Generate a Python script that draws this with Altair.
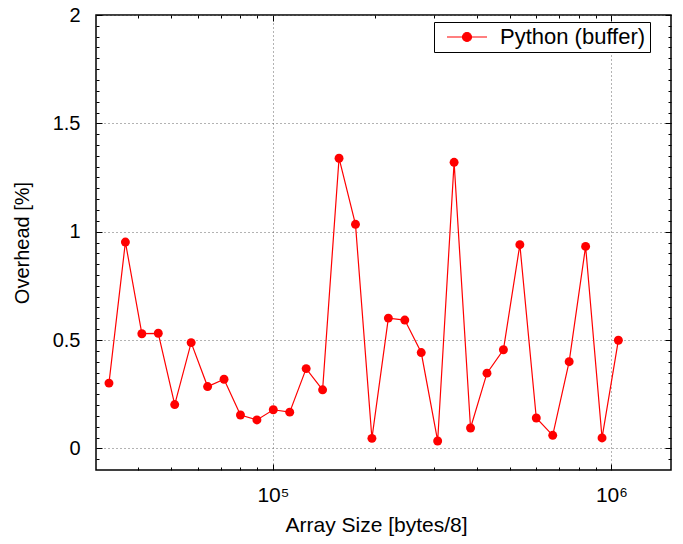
import altair as alt
import pandas as pd

# Array sizes (bytes/8) and measured overhead (%)
sizes = [32768, 36644, 40980, 45829, 51251, 57316, 64098, 71681, 80163, 89649,
         100226, 112085, 125347, 140178, 156764, 175314, 196057, 219255, 245199,
         274211, 306656, 342944, 383520, 428900, 479652, 536404, 599872, 670848,
         750235, 839007, 938285, 1048576]
overhead = [0.301, 0.952, 0.529, 0.531, 0.202, 0.488, 0.285, 0.319, 0.154, 0.131,
            0.178, 0.167, 0.368, 0.270, 1.339, 1.034, 0.046, 0.601, 0.592, 0.442,
            0.034, 1.320, 0.094, 0.347, 0.455, 0.940, 0.140, 0.060, 0.400, 0.932,
            0.048, 0.499]
series_name = "Python (buffer)"

x_major = [1e5, 1e6]
x_minor = [4e4, 5e4, 6e4, 7e4, 8e4, 9e4, 2e5, 3e5, 4e5, 5e5, 6e5, 7e5, 8e5, 9e5]
y_major = [0, 0.5, 1, 1.5, 2]
y_minor = [round(-0.05 + 0.05 * i, 2) for i in range(42)]

df = pd.DataFrame({"size": sizes, "overhead": overhead, "series": series_name})

FONT = "Liberation Sans"
RED = "#ff0000"
GRID = "#666666"
xscale = alt.Scale(type="log", domain=[3e4, 1.5e6])
yscale = alt.Scale(domain=[-0.1, 2], zero=False, nice=False)

# legend glyph: short line with a filled circle in its middle
legend_path = ("M-0.6,0L1.4,0M0.175,0A0.225,0.225,0,1,1,0.625,0"
               "A0.225,0.225,0,1,1,0.175,0Z")

color = alt.Color(
    "series:N",
    scale=alt.Scale(domain=[series_name], range=[RED]),
    legend=alt.Legend(
        title=None, orient="none", legendX=338, legendY=7,
        padding=4, strokeColor="black", fillColor="white", cornerRadius=0,
        labelFont=FONT, labelFontSize=22, labelColor="black",
        symbolType=legend_path, symbolSize=1600, symbolStrokeWidth=1.2,
        symbolStrokeColor=RED, symbolFillColor=RED,
        clipHeight=22, labelOffset=20,
    ),
)

x_main = alt.X("size:Q", scale=xscale, title="Array Size [bytes/8]",
               axis=alt.Axis(orient="bottom", values=x_major,
                             labelExpr="datum.value == 100000 ? '10⁵' : '10⁶'",
                             ticks=False, domain=False, grid=True,
                             gridColor=GRID, gridDash=[1, 3], gridWidth=1,
                             labelFont=FONT, labelFontSize=21, labelColor="black",
                             labelPadding=14, titleFont=FONT, titleFontSize=21,
                             titleFontWeight="normal", titleColor="black",
                             titlePadding=9, titleX=280))
y_main = alt.Y("overhead:Q", scale=yscale, title="Overhead [%]",
               axis=alt.Axis(orient="left", values=y_major, format="~g",
                             ticks=False, domain=False, grid=True,
                             gridColor=GRID, gridDash=[1, 3], gridWidth=1,
                             labelFont=FONT, labelFontSize=20, labelColor="black",
                             labelPadding=16, titleFont=FONT, titleFontSize=20,
                             titleFontWeight="normal", titleColor="black",
                             titlePadding=20))

base = alt.Chart(df)
line = base.mark_line(strokeWidth=1.2).encode(x=x_main, y=y_main, color=color)
pts = base.mark_point(filled=True, size=80, opacity=1).encode(
    x=alt.X("size:Q", scale=xscale, axis=None),
    y=alt.Y("overhead:Q", scale=yscale, axis=None),
    color=color)


def tick_layer(xo, yo, xvals, yvals, length):
    xa = alt.Axis(orient=xo, values=xvals, labels=False, domain=False, grid=False,
                  ticks=True, tickSize=length, offset=-length, tickColor="black",
                  tickWidth=1, title=None, zindex=1)
    ya = alt.Axis(orient=yo, values=yvals, labels=False, domain=False, grid=False,
                  ticks=True, tickSize=length, offset=-length, tickColor="black",
                  tickWidth=1, title=None, zindex=1)
    return base.mark_point(opacity=0).encode(
        x=alt.X("size:Q", scale=xscale, axis=xa),
        y=alt.Y("overhead:Q", scale=yscale, axis=ya))


layers = [
    line, pts,
    tick_layer("bottom", "left", x_minor, y_minor, 3),
    tick_layer("bottom", "left", x_major, y_major, 6),
    tick_layer("top", "right", x_minor, y_minor, 3),
    tick_layer("top", "right", x_major, y_major, 6),
]

chart = alt.layer(*layers).resolve_axis(x="independent", y="independent").properties(
    width=575, height=455,
    autosize=alt.AutoSizeParams(type="none"),
    padding={"left": 88, "top": 7, "right": 4, "bottom": 66},
    background="white",
).configure_view(stroke="black", strokeWidth=1.5)

chart.save("out.html", embed_options={"renderer": "svg", "actions": False})
